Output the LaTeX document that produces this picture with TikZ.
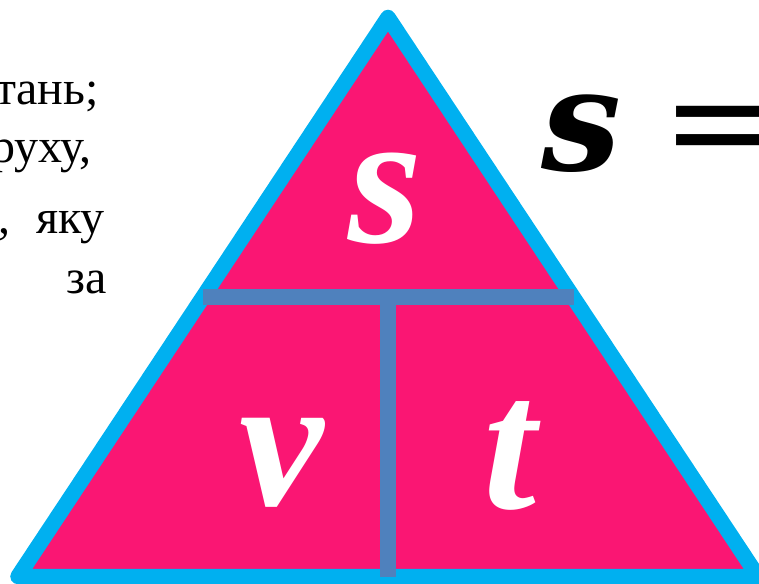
\documentclass[tikz,border=0pt]{standalone}
\usepackage{fontspec}
\setmainfont{Liberation Serif}
\newfontfamily\eqfont{DejaVu Serif}
\definecolor{pinkfill}{RGB}{250,22,115}
\definecolor{outlineblue}{RGB}{0,176,240}
\definecolor{barblue}{RGB}{79,129,189}
\tikzset{
  tri/.style={line width=15.5pt, line join=round, draw=outlineblue, fill=pinkfill},
  tbar/.style={line width=16pt, draw=barblue, line cap=butt},
  letter/.style={inner sep=0pt, text=white, font=\fontsize{190}{190}\selectfont\bfseries\itshape},
  sidetext/.style={inner sep=0pt, anchor=base east, font=\fontsize{48}{50}\selectfont},
  formula/.style={inner sep=0pt, anchor=base west, font=\eqfont\fontsize{142}{150}\selectfont}
}
\begin{document}
\begin{tikzpicture}[x=1pt,y=-1pt]
\useasboundingbox (0,0) rectangle (759,583);
% left text fragments
\node[sidetext] (l1) at (99,105) {тань;};
\node[sidetext] (l2) at (92,162) {руху,};
\node[sidetext] (l3) at (105,233) {,\hspace{26pt}яку};
\node[sidetext] (l4) at (107,293) {за};
% triangle
\coordinate (A) at (388,17.5);
\coordinate (L) at (18,576.5);
\coordinate (R) at (758,576.5);
\draw[tri] (L) -- (A) -- (R) -- cycle;
% T bars
\coordinate (hl) at (203,297);
\coordinate (hr) at (574,297);
\coordinate (vt) at (388,305);
\coordinate (vb) at (388,577);
\draw[tbar] (hl) -- (hr);
\draw[tbar] (vt) -- (vb);
% letters
\node[letter, anchor=base] (s) at (385,242) {s};
\node[letter, anchor=base] (v) at (282,505) {v};
\node[letter, anchor=base] (t) at (510,508) {t};
% formula
\node[formula] (fs) at (541,170) {\bfseries\itshape s};
\node[formula] (feq) at (661,170) {=};
\end{tikzpicture}
\end{document}
